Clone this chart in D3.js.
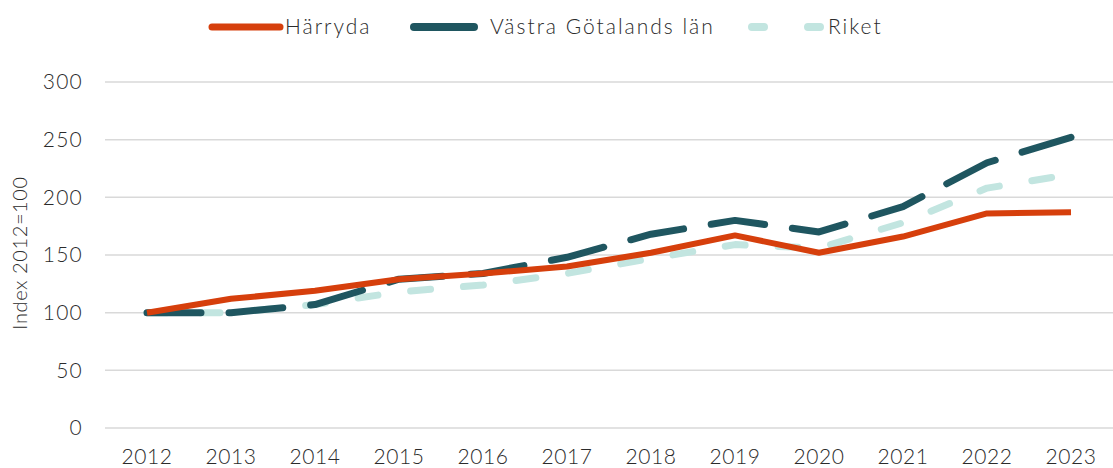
<!DOCTYPE html>
<html>
<head>
<meta charset="utf-8">
<script src="https://cdn.jsdelivr.net/npm/d3@7"></script>
<style>
  body { margin: 0; background: #fff; }
  text { font-family: Lato, "Open Sans", sans-serif; fill: #2b2b2b; font-weight: 300; }
</style>
</head>
<body>
<div id="chart"></div>
<script>
// Data
const years = ["2012", "2013", "2014", "2015", "2016", "2017", "2018", "2019", "2020", "2021", "2022", "2023"];
const harryda = [100, 112, 119, 129, 134, 140, 152, 167, 152, 166, 186, 187];
const vastra = [100, 100, 107, 129, 134, 148, 168, 180, 170, 192, 230, 252];
const riket = [100, 100, 107, 118, 124, 134, 147, 159, 156, 178, 208, 220];
const yTicks = [0, 50, 100, 150, 200, 250, 300];

const series = [
    { name: "Härryda", values: harryda, color: "#d63f0c", width: 6, dash: null },
    { name: "Västra Götalands län", values: vastra, color: "#1f5660", width: 7, dash: "54,28" },
    { name: "Riket", values: riket, color: "#c2e5e0", width: 7, dash: "20,33" }
];

const W = 1113, H = 468;
const margin = { top: 82, right: 0, bottom: 40, left: 105 };

const svg = d3.select("#chart")
    .append("svg")
    .attr("width", W)
    .attr("height", H);

const x = d3.scaleBand()
    .domain(years)
    .range([margin.left, W - margin.right]);

const y = d3.scaleLinear()
    .domain([0, 300])
    .range([428, 82]);

// gridlines
svg.append("g")
    .selectAll("line")
    .data(yTicks)
    .join("line")
    .attr("x1", margin.left)
    .attr("x2", W)
    .attr("y1", d => y(d))
    .attr("y2", d => y(d))
    .attr("stroke", "#d9d9d9")
    .attr("stroke-width", 1.5);

// y axis labels
const yAxis = svg.append("g")
    .attr("transform", `translate(${margin.left},0)`)
    .call(d3.axisLeft(y).tickValues(yTicks).tickSize(0).tickPadding(22));
yAxis.select(".domain").remove();
yAxis.selectAll("text")
    .style("font-size", "21px")
    .style("letter-spacing", "1.2px")
    .attr("fill", "#2b2b2b");

// x axis labels
const xAxis = svg.append("g")
    .attr("transform", `translate(0,${y(0)})`)
    .call(d3.axisBottom(x).tickSize(0).tickPadding(21));
xAxis.select(".domain").remove();
xAxis.selectAll("text")
    .style("font-size", "21px")
    .style("letter-spacing", "0.6px")
    .attr("fill", "#2b2b2b");

// y axis title
svg.append("text")
    .attr("transform", `translate(27,253) rotate(-90)`)
    .attr("text-anchor", "middle")
    .style("font-size", "20px")
    .style("letter-spacing", "0.6px")
    .text("Index 2012=100");

// lines, drawn back to front
const line = d3.line()
    .x((d, i) => x(years[i]) + x.bandwidth() / 2)
    .y(d => y(d));

svg.append("g")
    .selectAll("path")
    .data(series.slice().reverse())
    .join("path")
    .attr("d", d => line(d.values))
    .attr("fill", "none")
    .attr("stroke", d => d.color)
    .attr("stroke-width", d => d.width)
    .attr("stroke-dasharray", d => d.dash)
    .attr("stroke-linecap", d => d.dash ? "round" : "butt")
    .attr("stroke-linejoin", "round");

// legend
const legendPos = [
    { lx: 212, len: 68, tx: 285 },
    { lx: 414, len: 60, tx: 490 },
    { lx: 752, len: 68, tx: 828 }
];
const legend = svg.append("g")
    .selectAll("g")
    .data(series)
    .join("g");

legend.append("line")
    .attr("x1", (d, i) => legendPos[i].lx)
    .attr("x2", (d, i) => legendPos[i].lx + legendPos[i].len)
    .attr("y1", 27)
    .attr("y2", 27)
    .attr("stroke", d => d.color)
    .attr("stroke-width", d => d.width + 1)
    .attr("stroke-dasharray", (d, i) => i === 2 ? "12,44" : null)
    .attr("stroke-linecap", "round");

legend.append("text")
    .attr("x", (d, i) => legendPos[i].tx)
    .attr("y", 27)
    .attr("dy", "0.35em")
    .style("font-size", "21px")
    .style("letter-spacing", "2px")
    .text(d => d.name);
</script>
</body>
</html>
